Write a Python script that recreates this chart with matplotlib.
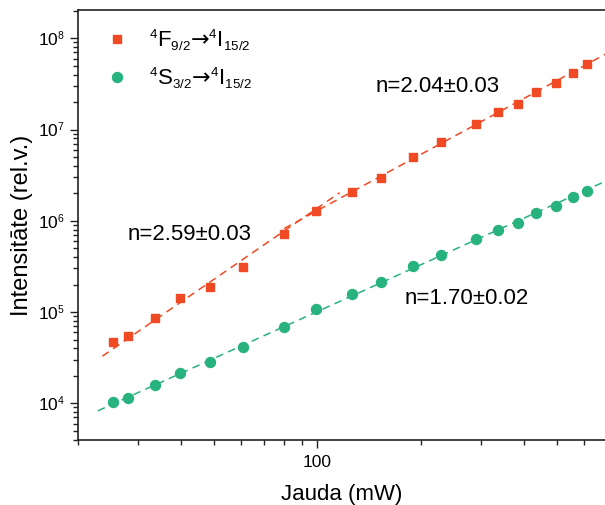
import numpy as np
import matplotlib
matplotlib.use("Agg")
import matplotlib.pyplot as plt
from matplotlib import ticker
import matplotlib._mathtext as _mt

_mt.SHRINK_FACTOR = 0.6

plt.rcParams['font.family'] = ['Liberation Sans', 'DejaVu Sans']
plt.rcParams['mathtext.fontset'] = 'custom'
plt.rcParams['mathtext.rm'] = 'Liberation Sans'
plt.rcParams['mathtext.it'] = 'Liberation Sans:italic'
plt.rcParams['mathtext.bf'] = 'Liberation Sans:bold'
plt.rcParams['mathtext.sf'] = 'DejaVu Sans'

# ---- data ----
power_mw = [25.4, 28.0, 33.7, 39.7, 48.6, 60.8, 80.0, 99.0, 125.8, 153, 190,
            229, 290, 337, 385, 433, 495, 555, 612]
red_int = [4.73e4, 5.5e4, 8.5e4, 1.44e5, 1.87e5, 3.14e5, 7.1e5, 1.29e6, 2.08e6,
           2.97e6, 5.04e6, 7.36e6, 1.15e7, 1.57e7, 1.90e7, 2.60e7, 3.26e7,
           4.2e7, 5.23e7]
green_int = [1.03e4, 1.15e4, 1.59e4, 2.13e4, 2.86e4, 4.17e4, 6.8e4, 1.08e5,
             1.58e5, 2.12e5, 3.22e5, 4.22e5, 6.27e5, 7.93e5, 9.53e5, 1.21e6,
             1.46e6, 1.81e6, 2.14e6]

# fits: slope n, indices of points used, drawn x range (mW)
red_low_n, red_low_idx, red_low_range = 2.59, slice(0, 7), (23.6, 116)
red_high_n, red_high_idx, red_high_range = 2.04, slice(7, 19), (80, 700)
green_n, green_idx, green_range = 1.70, slice(0, 19), (22.9, 700)

labels = ['$^{4}$F$_{9/2}\\mathsf{\u2192}^{4}$I$_{15/2}$',
          '$^{4}$S$_{3/2}\\mathsf{\u2192}^{4}$I$_{15/2}$']
fit_texts = ['n=2.59\u00b10.03', 'n=2.04\u00b10.03', 'n=1.70\u00b10.02']

red = '#EF4A24'
green = '#27B27E'

W, H = 605, 505
fig = plt.figure(figsize=(W / 100, H / 100), dpi=100)
ax = fig.add_axes([77.7 / W, 1 - 440 / H, (W - 77.7) / W, 430 / H])

x = np.array(power_mw)
yr = np.array(red_int)
yg = np.array(green_int)


def fit_line(xs, ys, n, rng):
    lx, ly = np.log10(xs), np.log10(ys)
    b = np.mean(ly) - n * np.mean(lx)
    xx = np.array(rng)
    return xx, 10 ** (b + n * np.log10(xx))


dash = (0, (5, 3.5))
for (xs, ys, n, rng, c) in [
        (x[red_low_idx], yr[red_low_idx], red_low_n, red_low_range, red),
        (x[red_high_idx], yr[red_high_idx], red_high_n, red_high_range, red),
        (x[green_idx], yg[green_idx], green_n, green_range, green)]:
    fx, fy = fit_line(xs, ys, n, rng)
    ax.plot(fx, fy, linestyle=dash, color=c, lw=1.1, zorder=2)

ax.plot(x, yr, linestyle='none', marker='s', ms=6.3, color=red, mec=red,
        label=labels[0], zorder=3)
ax.plot(x, yg, linestyle='none', marker='o', ms=7.2, color=green, mec=green,
        label=labels[1], zorder=3)

ax.set_xscale('log')
ax.set_yscale('log')
ax.set_xlim(20, 689)
ax.set_ylim(3.96e3, 2.04e8)

ax.xaxis.set_major_formatter(ticker.FuncFormatter(lambda v, p: f'{v:g}'))
ax.xaxis.set_minor_formatter(ticker.NullFormatter())
ax.yaxis.set_major_locator(ticker.LogLocator(base=10, numticks=20))
ax.yaxis.set_minor_locator(ticker.LogLocator(base=10, subs=np.arange(2, 10), numticks=20))
ax.yaxis.set_minor_formatter(ticker.NullFormatter())

ax.tick_params(which='major', direction='out', length=6, width=1.0,
               labelsize=12.5, color='#222222', pad=3)
ax.tick_params(which='minor', direction='out', length=3.5, width=1.0,
               color='#222222')
ax.tick_params(axis='x', which='major', pad=5)
for s in ['left', 'bottom', 'top']:
    ax.spines[s].set_linewidth(1.2)
    ax.spines[s].set_color('#222222')
ax.spines['right'].set_visible(False)

ax.set_xlabel('Jauda (mW)', fontsize=16, labelpad=10)
ax.set_ylabel('Intensitāte (rel.v.)', fontsize=17, labelpad=4)

leg = ax.legend(loc='upper left', frameon=False, fontsize=16,
                bbox_to_anchor=(0.0, 1.012), borderaxespad=0.6,
                handletextpad=0.7, labelspacing=0.58, handlelength=1.5)

ax.text(128 / W, 1 - 235 / H, fit_texts[0], transform=fig.transFigure,
        fontsize=16, va='center', ha='left')
ax.text(376 / W, 1 - 86 / H, fit_texts[1], transform=fig.transFigure,
        fontsize=16, va='center', ha='left')
ax.text(405 / W, 1 - 299 / H, fit_texts[2], transform=fig.transFigure,
        fontsize=16, va='center', ha='left')

fig.savefig('out.png', dpi=100)
